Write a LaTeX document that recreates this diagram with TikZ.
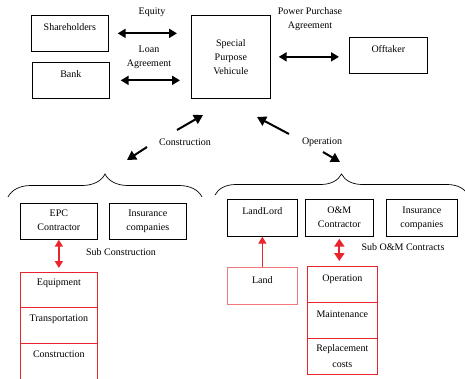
\documentclass[tikz,border=0pt]{standalone}
\usepackage{fontspec}
\setmainfont{Liberation Serif}
\usetikzlibrary{arrows.meta, decorations.pathreplacing}

\definecolor{subred}{RGB}{232,36,44}
\definecolor{landred}{RGB}{240,120,124}

\tikzset{
  box/.style={draw, line width=0.7pt, anchor=north west, inner sep=0pt},
  redbox/.style={box, draw=subred},
  tag/.style={anchor=north, yshift=-8pt, inner sep=0pt, align=center},
  link/.style={line width=2pt, {Triangle[length=8pt,width=9pt]}-{Triangle[length=8pt,width=9pt]}},
  push/.style={line width=2pt, -{Triangle[length=9pt,width=10pt]}},
  brace/.style={decorate, decoration={brace, amplitude=#1}, line width=0.7pt},
  redlink/.style={line width=2pt, subred, {Triangle[length=7pt,width=8pt]}-{Triangle[length=7pt,width=8pt]}},
}

\begin{document}
\begin{tikzpicture}[x=1pt, y=-1pt, font=\fontsize{10}{14}\selectfont]
\useasboundingbox (0,0) rectangle (465,378);
% project company and its partners
\node[box, minimum width=77pt, minimum height=36pt, label={[tag]north:Shareholders}] (share) at (31,15) {};
\node[box, minimum width=77pt, minimum height=36pt, label={[tag]north:Bank}] (bank) at (32,62) {};
\node[box, minimum width=79pt, minimum height=83pt, align=center] (spv) at (191,15) {Special\\Purpose\\Vehicule};
\node[box, minimum width=78pt, minimum height=36pt, label={[tag]north:Offtaker}] (off) at (349,37) {};
% contracts between them
\draw[link, shorten <=9pt, shorten >=14pt] (share.east) -- (share.east -| spv.west);
\node (equity) at (152,12) {Equity};
\draw[link, shorten <=11pt, shorten >=11pt] (bank.east) -- (bank.east -| spv.west);
\node[align=center] (loan) at (149,57) {Loan\\Agreement};
\draw[link, shorten <=8pt, shorten >=10pt] (spv.east) -- (spv.east -| off.west);
\node[align=center] (ppa) at (310,19.5) {Power Purchase\\Agreement};
% construction / operation phases
\coordinate (cup0) at (177,130);  \coordinate (cup1) at (203,115);
\coordinate (cdn0) at (147,147);  \coordinate (cdn1) at (127,160);
\coordinate (oup0) at (289,134);  \coordinate (oup1) at (257,117);
\coordinate (odn0) at (323,152);  \coordinate (odn1) at (340,162);
\draw[push] (cup0) -- (cup1);
\draw[push] (cdn0) -- (cdn1);
\draw[push] (oup0) -- (oup1);
\draw[push] (odn0) -- (odn1);
\node (constr) at (185,142) {Construction};
\node (oper) at (322,142) {Operation};
\draw[brace=23pt] (8,197) -- (202,197);
\draw[brace=21pt] (215,195) -- (468,195);
% construction side
\node[box, minimum width=77pt, minimum height=36pt, label={[tag, yshift=1pt]north:EPC\\Contractor}] (epc) at (20,203) {};
\node[box, minimum width=77pt, minimum height=36pt, label={[tag, yshift=1pt]north:Insurance\\companies}] (insl) at (109,203) {};
\node (subc) at (121,252) {Sub Construction};
\node[redbox, minimum width=77pt, minimum height=35pt, label={[tag, yshift=1pt]north:Equipment}] (equip) at (20,272) {};
\node[redbox, minimum width=77pt, minimum height=36pt, label={[tag]north:Transportation}] (trans) at (20,307) {};
\node[redbox, minimum width=77pt, minimum height=40pt, label={[tag]north:Construction}] (build) at (20,343) {};
\draw[redlink, shorten >=4pt] (epc.south) -- (equip.north);
% operation side
\node[box, minimum width=70pt, minimum height=37pt, label={[tag]north:LandLord}] (lord) at (227,199) {};
\node[box, minimum width=68pt, minimum height=37pt, label={[tag]north:O\&M\\Contractor}] (om) at (305,199) {};
\node[box, minimum width=71pt, minimum height=37pt, label={[tag]north:Insurance\\companies}] (insr) at (386,199) {};
\node (subom) at (403,247) {Sub O\&M Contracts};
\node[box, draw=landred, minimum width=70pt, minimum height=37pt, label={[tag, yshift=-1pt]north:Land}] (land) at (227,267) {};
\node[redbox, minimum width=70pt, minimum height=36pt, label={[tag, yshift=-1pt]north:Operation}] (op) at (307,266) {};
\node[redbox, minimum width=70pt, minimum height=36pt, label={[tag, yshift=-1pt]north:Maintenance}] (maint) at (307,302) {};
\node[redbox, minimum width=70pt, minimum height=36pt, label={[tag, yshift=2pt]north:Replacement\\[2pt]costs}] (repl) at (307,338) {};
\draw[line width=1.4pt, subred, -{Triangle[length=7pt,width=8pt]}] (land.north) -- (lord.south);
\draw[line width=2pt, subred, {Triangle[length=8pt,width=10pt]}-{Triangle[length=8pt,width=10pt]}, shorten <=2pt, shorten >=5pt] (om.south) -- (om.south |- op.north);
\end{tikzpicture}
\end{document}
